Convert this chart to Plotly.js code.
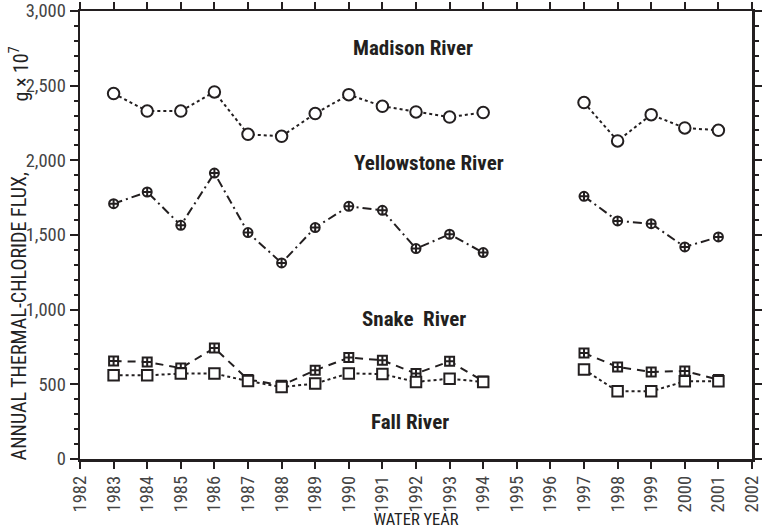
<!DOCTYPE html>
<html>
<head>
<meta charset="utf-8">
<script src="https://cdn.plot.ly/plotly-3.0.1.min.js"></script>
<style>html,body{margin:0;padding:0;background:#fff;}#chart{width:762px;height:529px;}</style>
</head>
<body>
<div id="chart"></div>
<script>
const years = [1983,1984,1985,1986,1987,1988,1989,1990,1991,1992,1993,1994,1995,1996,1997,1998,1999,2000,2001];
const madison =     [2447,2330,2330,2458,2174,2161,2313,2440,2362,2324,2290,2320,null,null,2387,2130,2306,2217,2201];
const yellowstone = [1710,1788,1565,1915,1516,1313,1550,1692,1665,1409,1505,1382,null,null,1759,1594,1576,1420,1487];
const snake =       [656,650,609,743,532,494,594,679,661,572,654,522,null,null,710,616,583,589,532];
const fall =        [560,560,572,572,522,482,505,573,569,516,538,516,null,null,599,453,453,520,521];
const seriesNames = ["Madison River","Yellowstone River","Snake  River","Fall River"];
const xTickYears = [1982,1983,1984,1985,1986,1987,1988,1989,1990,1991,1992,1993,1994,1995,1996,1997,1998,1999,2000,2001,2002];

const ink = '#231f20';
const cond = '"Roboto Condensed", "Liberation Sans Narrow", "Arial Narrow", sans-serif';

function tr(y, name, dash, symbol, size) {
  return {
    x: years, y: y, name: name, type: 'scatter', mode: 'lines+markers',
    connectgaps: false,
    line: {color: ink, width: 2, dash: dash},
    marker: {symbol: symbol, size: size, color: '#ffffff', line: {color: ink, width: 2}},
    showlegend: false
  };
}

const data = [
  tr(madison, seriesNames[0], 'dot', 'circle', 11.5),
  tr(yellowstone, seriesNames[1], '9px,4px,2px,4px', 'circle-cross', 9),
  tr(snake, seriesNames[2], '8px,6px', 'square-cross', 9),
  tr(fall, seriesNames[3], 'dot', 'square', 10.5)
];

const labelFont = {family: cond, size: 21, color: ink, weight: 'bold'};
const titleFont = {family: cond, size: 20, color: '#222'};
const layout = {
  width: 762, height: 529,
  margin: {l: 80, r: 10, t: 11, b: 70},
  paper_bgcolor: '#fff', plot_bgcolor: '#fff',
  font: {family: cond, color: '#333'},
  xaxis: {
    range: [1982, 2002], tickvals: xTickYears, ticktext: xTickYears.map(String),
    tickangle: -90, ticks: 'outside', ticklen: 7, tickwidth: 2, tickcolor: ink,
    ticklabeloverflow: 'allow',
    showline: true, linecolor: ink, linewidth: 2.5, mirror: 'ticks',
    showgrid: false, zeroline: false,
    tickfont: {family: cond, size: 18.5, color: '#444'},
    title: {text: 'WATER YEAR', font: {family: cond, size: 16.5, color: '#222'}, standoff: 1}
  },
  yaxis: {
    range: [0, 3000], dtick: 500, tick0: 0, tickformat: ',d',
    ticks: 'outside', ticklen: 8, tickwidth: 2, tickcolor: ink,
    ticklabeloverflow: 'allow',
    minor: {dtick: 100, ticks: 'outside', ticklen: 4, tickwidth: 2, tickcolor: ink, showgrid: false},
    showline: true, linecolor: ink, linewidth: 2.5, mirror: 'ticks',
    showgrid: false, zeroline: false,
    tickfont: {family: cond, size: 18.5, color: '#444'}
  },
  annotations: [
    {x: 1991.92, y: 2755, xref: 'x', yref: 'y', text: '<b>Madison River</b>', showarrow: false, font: labelFont},
    {x: 1992.4, y: 1985, xref: 'x', yref: 'y', text: '<b>Yellowstone River</b>', showarrow: false, font: labelFont},
    {x: 1991.95, y: 940, xref: 'x', yref: 'y', text: '<b>Snake&nbsp;&nbsp;River</b>', showarrow: false, font: labelFont},
    {x: 1991.82, y: 250, xref: 'x', yref: 'y', text: '<b>Fall River</b>', showarrow: false, font: labelFont},
    {x: -0.091, y: 0.318, xref: 'paper', yref: 'paper', xanchor: 'center', yanchor: 'middle', text: 'ANNUAL THERMAL-CHLORIDE FLUX,', textangle: -90, showarrow: false, font: titleFont},
    {x: -0.091, y: 0.86, xref: 'paper', yref: 'paper', xanchor: 'center', yanchor: 'middle', text: 'g × 10<sup>7</sup>', textangle: -90, showarrow: false, font: titleFont}
  ]
};

Plotly.newPlot('chart', data, layout, {displayModeBar: false, staticPlot: true});
</script>
</body>
</html>
